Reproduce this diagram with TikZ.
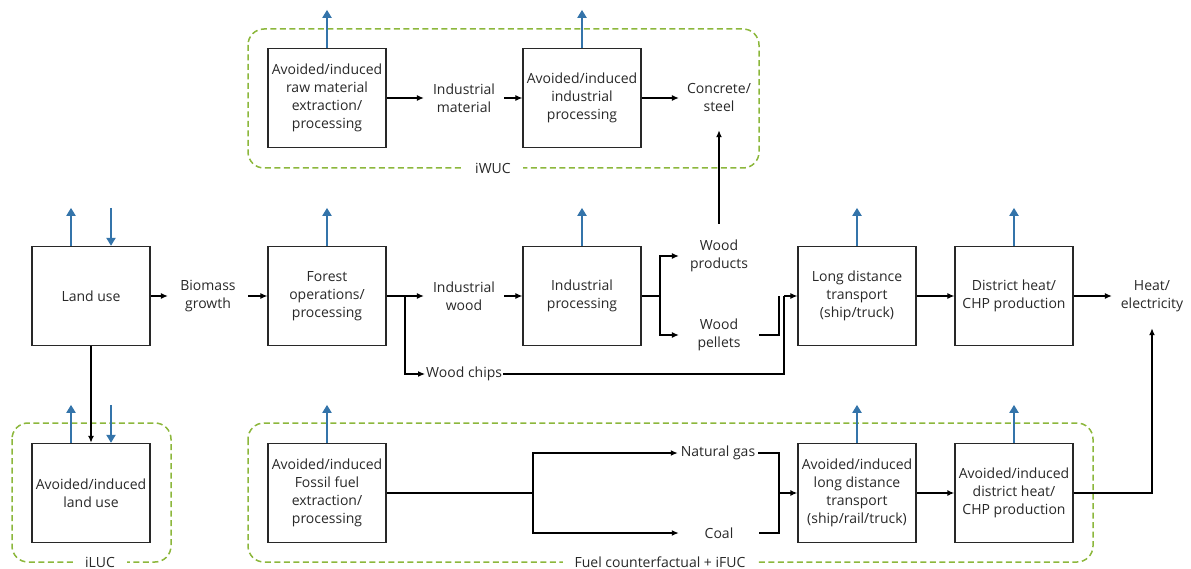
\documentclass[tikz,border=0pt]{standalone}
\usepackage{fontspec}
\setmainfont{Open Sans}
\usepackage{tikz}
\usetikzlibrary{arrows.meta, positioning, calc}

\definecolor{emisblue}{RGB}{52,116,170}
\definecolor{framegreen}{RGB}{140,183,60}
\definecolor{inkgray}{RGB}{40,40,40}

\tikzset{
  proc/.style={draw=inkgray, line width=1.3pt, minimum width=118, minimum height=99,
    align=center, inner sep=2pt, text=inkgray},
  flowlbl/.style={align=center, minimum width=80, minimum height=64, inner sep=0pt, text=inkgray},
  conn/.style={draw=black, line width=1.1pt},
  connarr/.style={conn, -{Latex[length=7pt,width=6pt]}},
  boldconn/.style={draw=black, line width=1.9pt},
  boldarr/.style={boldconn, -{Latex[length=7pt,width=6pt]}},
  emis/.style={draw=emisblue, line width=2.6pt, -{Triangle[length=8pt,width=9pt]}},
  frame/.style={draw=framegreen, line width=1.5pt, dash pattern=on 6pt off 3.5pt, rounded corners=16pt},
  framelbl/.style={fill=white, inner xsep=12pt, inner ysep=2pt, text=inkgray}
}

\begin{document}
\begin{tikzpicture}[x=1pt, y=-1pt, font=\fontsize{14}{18}\selectfont]

\useasboundingbox (0,0) rectangle (1191,569);

% row heights
\pgfmathsetmacro{\toprow}{98}
\pgfmathsetmacro{\midrow}{296}
\pgfmathsetmacro{\botrow}{493}
\pgfmathsetmacro{\rise}{38}

% dashed frames (drawn first so the lines lie on top)
\draw[frame] (248,29) rectangle (759,168);
\node[framelbl] (iwuc) at (493,168) {iWUC};
\draw[frame] (12,423) rectangle (171,562);
\node[framelbl] (iluclbl) at (100,562) {iLUC};
\draw[frame] (248,423) rectangle (1093,562);
\node[framelbl] (ifuc) at (660,562) {Fuel counterfactual + iFUC};

% top row: industrial counterfactual
\node[proc] (rawmat) at (327,\toprow) {Avoided/induced\\raw material\\extraction/\\processing};
\node[flowlbl] (indmat) at (464,\toprow) {Industrial\\material};
\node[proc] (avindproc) at (582,\toprow) {Avoided/induced\\industrial\\processing};
\node[flowlbl] (conc) at (719,\toprow) {Concrete/\\steel};

\draw[connarr] (rawmat) -- (indmat);
\draw[connarr] (indmat) -- (avindproc);
\draw[connarr] (avindproc) -- (conc);

% middle row: bioenergy chain
\node[proc] (landuse) at (91,\midrow) {Land use};
\node[flowlbl] (biomass) at (208,\midrow) {Biomass\\growth};
\node[proc] (forest) at (327,\midrow) {Forest\\operations/\\processing};
\node[flowlbl] (indwood) at (464,\midrow) {Industrial\\wood};
\node[proc] (indproc) at (582,\midrow) {Industrial\\processing};
\node[flowlbl] (prod) at (719,256) {Wood\\products};
\node[flowlbl] (pellets) at (719,335) {Wood\\pellets};
\node[anchor=west, inner sep=1pt, text=inkgray] (chips) at (425,374) {Wood chips};
\node[proc] (ldt) at (857,\midrow) {Long distance\\transport\\(ship/truck)};
\node[proc] (dh) at (1014,\midrow) {District heat/\\CHP production};
\node[flowlbl] (heat) at (1152,\midrow) {Heat/\\electricity};

% junctions
\coordinate (fsplit) at (405,\midrow);
\coordinate (procsplit) at (660,\midrow);
\coordinate (pjoin) at (779,\midrow);
\coordinate (cjoin) at (784,\midrow);

\draw[connarr] (landuse) -- (biomass);
\draw[connarr] (biomass) -- (forest);
\draw[connarr] (forest) -- (indwood);
\draw[connarr] (fsplit) |- (chips.west);
\draw[connarr] (indwood) -- (indproc);
\draw[conn] (indproc) -- (procsplit);
\draw[connarr] (procsplit) |- (prod.west);
\draw[connarr] (procsplit) |- (pellets.west);
\draw[boldarr] (prod) -- (conc);
\draw[conn] (pellets.east) -| (pjoin);
\draw[conn, line width=1.5pt] (chips.east) -| (cjoin);
\draw[connarr] (cjoin) -- (ldt.west);
\draw[connarr] (ldt) -- (dh);
\draw[connarr] (dh) -- (heat);

% bottom row: avoided land use and fuel counterfactual
\node[proc] (iluc) at (91,\botrow) {Avoided/induced\\land use};
\node[proc] (fossil) at (327,\botrow) {Avoided/induced\\Fossil fuel\\extraction/\\processing};
\node[flowlbl] (gas) at (718,453) {Natural gas};
\node[flowlbl] (coal) at (719,533) {Coal};
\node[proc] (aldt) at (857,\botrow) {Avoided/induced\\long distance\\transport\\(ship/rail/truck)};
\node[proc] (adh) at (1014,\botrow) {Avoided/induced\\district heat/\\CHP production};

\coordinate (fosssplit) at (533,\botrow);
\coordinate (fueljoin) at (779,\botrow);

\draw[boldarr] (landuse) -- (iluc);
\draw[boldconn] (fossil) -- (fosssplit);
\draw[boldarr] (fosssplit) |- (gas.west);
\draw[boldarr] (fosssplit) |- (coal.west);
\draw[boldconn] (gas.east) -| (fueljoin);
\draw[boldconn] (coal.east) -| (fueljoin);
\draw[boldarr] (fueljoin) -- (aldt.west);
\draw[boldarr] (aldt) -- (adh);
\draw[boldarr] (adh.east) -| (heat.south);

% emissions to and from the atmosphere
\foreach \n in {rawmat, avindproc, forest, indproc, ldt, dh, fossil, aldt, adh}
  \draw[emis] (\n.north) -- ++(0,-\rise);
\foreach \n in {landuse, iluc}{
  \draw[emis] ([xshift=-20pt]\n.north) -- ++(0,-\rise);
  \draw[emis] ($([xshift=20pt]\n.north)+(0,-\rise)$) -- ([xshift=20pt]\n.north);
}

\end{tikzpicture}
\end{document}
